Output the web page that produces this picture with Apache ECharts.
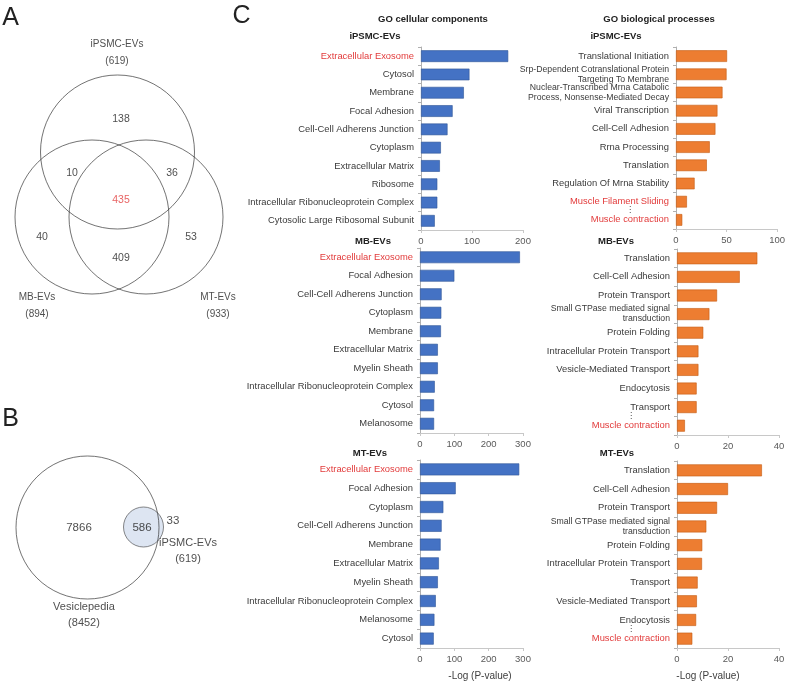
<!DOCTYPE html>
<html><head><meta charset="utf-8">
<script src="https://cdn.jsdelivr.net/npm/echarts@6/dist/echarts.min.js"></script>
<style>html,body{margin:0;padding:0;background:#fff}#c{width:788px;height:681px}</style>
</head><body><div id="c"></div>
<script>
// ---------- DATA ----------
// Panel C: GO cellular components (-Log P-value)
const ccIpsmcCats = ['Extracellular Exosome','Cytosol','Membrane','Focal Adhesion','Cell-Cell Adherens Junction','Cytoplasm','Extracellular Matrix','Ribosome','Intracellular Ribonucleoprotein Complex','Cytosolic Large Ribosomal Subunit'];
const ccIpsmcVals = [171,95,84,62,52,39,37,32,32,27];
const ccMbCats = ['Extracellular Exosome','Focal Adhesion','Cell-Cell Adherens Junction','Cytoplasm','Membrane','Extracellular Matrix','Myelin Sheath','Intracellular Ribonucleoprotein Complex','Cytosol','Melanosome'];
const ccMbVals = [291,100,63,62,61,52,52,43,41,41];
const ccMtCats = ['Extracellular Exosome','Focal Adhesion','Cytoplasm','Cell-Cell Adherens Junction','Membrane','Extracellular Matrix','Myelin Sheath','Intracellular Ribonucleoprotein Complex','Melanosome','Cytosol'];
const ccMtVals = [289,104,68,63,60,55,52,46,42,40];
// Panel C: GO biological processes
const bpIpsmcCats = ['Translational Initiation','Srp-Dependent Cotranslational Protein\nTargeting To Membrane','Nuclear-Transcribed Mrna Catabolic\nProcess, Nonsense-Mediated Decay','Viral Transcription','Cell-Cell Adhesion','Rrna Processing','Translation','Regulation Of Mrna Stability','Muscle Filament Sliding','Muscle contraction'];
const bpIpsmcVals = [50.5,50,46,41,39,33.4,30.5,18.4,10.8,6.2];
const bpMbCats = ['Translation','Cell-Cell Adhesion','Protein Transport','Small GTPase mediated signal\ntransduction','Protein Folding','Intracellular Protein Transport','Vesicle-Mediated Transport','Endocytosis','Transport','Muscle contraction'];
const bpMbVals = [31.5,24.6,15.7,12.7,10.3,8.4,8.4,7.7,7.7,3.1];
const bpMtCats = ['Translation','Cell-Cell Adhesion','Protein Transport','Small GTPase mediated signal\ntransduction','Protein Folding','Intracellular Protein Transport','Transport','Vesicle-Mediated Transport','Endocytosis','Muscle contraction'];
const bpMtVals = [33.3,20,15.7,11.5,9.9,9.8,8.1,7.8,7.5,6.0];
const xMaxes = [200,300,300,100,40,40];
const xIntervals = [100,100,100,50,20,20];
const highlighted = ['Extracellular Exosome','Muscle Filament Sliding','Muscle contraction'];
const afterGap = ['Muscle contraction'];

// Panel A: Venn of three EV proteomes
const vennASets = ['iPSMC-EVs','MB-EVs','MT-EVs'];
const vennASizes = [619,894,933];
const vennARegions = [138,10,36,435,40,53,409]; // iPSMC only, iPSMC&MB, iPSMC&MT, all, MB only, MT only, MB&MT
// Panel B: Vesiclepedia vs iPSMC-EVs
const vennBSets = ['Vesiclepedia','iPSMC-EVs'];
const vennBSizes = [8452,619];
const vennBRegions = [7866,586,33]; // Vesiclepedia only, shared, iPSMC only

// ---------- LAYOUT (pixel positions, separate from data) ----------
const FONT = '"Liberation Sans", Arial, sans-serif';
const grids = [
  {left:421, top:47, width:102, height:183},
  {left:420, top:248, width:103, height:185},
  {left:420, top:460, width:103, height:188},
  {left:676, top:47, width:102, height:182},
  {left:677, top:249, width:102, height:186},
  {left:677, top:461, width:102, height:187}
];
const colors = ['#4472C4','#4472C4','#4472C4','#ED7D31','#ED7D31','#ED7D31'];
const borders = ['#2f5597','#2f5597','#2f5597','#c55a11','#c55a11','#c55a11'];
const catSets = [ccIpsmcCats, ccMbCats, ccMtCats, bpIpsmcCats, bpMbCats, bpMtCats];
const valSets = [ccIpsmcVals, ccMbVals, ccMtVals, bpIpsmcVals, bpMbVals, bpMtVals];

const vennACircles = [[117.5,152,77],[92,217,77],[146,217,77]];
const vennASetPos = [[117,53],[37,305.5],[218,305.5]];
const vennARegionPos = [[121,119],[72,173],[172,173],[121,200],[42,237],[191,237],[121,258]];
const vennBCircles = [[87.5,527.5,71.5],[143.5,527,20]];
const vennBSetPos = [[84,615],[188,551]];
const vennBRegionPos = [[79,528],[142,528],[173,521]];

// ---------- BUILD ----------
const chart = echarts.init(document.getElementById('c'));
const rich = {
  norm:{fontSize:9.4, color:'#3a3a3a', fontFamily:FONT, lineHeight:11},
  red:{fontSize:9.4, color:'#e23b3b', fontFamily:FONT, lineHeight:11},
  small:{fontSize:8.7, color:'#3a3a3a', fontFamily:FONT, lineHeight:10},
  dots:{fontSize:8, color:'#3a3a3a', fontFamily:'DejaVu Sans', lineHeight:8, align:'center'},
  blank:{fontSize:8, lineHeight:8}
};
function catFmt(v){
  if (afterGap.includes(v)) return '{dots|⋮}\n{red|'+v+'}\n{blank| }';
  if (highlighted.includes(v)) return '{red|'+v+'}';
  if (v.indexOf('\n')>=0) return '{small|'+v+'}';
  return '{norm|'+v+'}';
}

const grid = [], xAxis = [], yAxis = [], series = [];
grids.forEach((g,i)=>{
  grid.push(Object.assign({containLabel:false}, g));
  xAxis.push({type:'value', gridIndex:i, min:0, max:xMaxes[i], interval:xIntervals[i],
    axisLine:{show:true, lineStyle:{color:'#c8c8c8', width:1}},
    axisTick:{show:true, length:3, lineStyle:{color:'#c8c8c8'}},
    splitLine:{show:false},
    axisLabel:{fontSize:9.5, color:'#595959', fontFamily:FONT, margin:6}});
  yAxis.push({type:'category', gridIndex:i, data:catSets[i], inverse:true,
    axisLine:{show:true, lineStyle:{color:'#b0b0b0', width:1}},
    axisTick:{show:true, length:3, lineStyle:{color:'#b0b0b0'}},
    axisLabel:{interval:0, margin:7, formatter:catFmt, rich:rich, align:'right'}});
  series.push({type:'bar', xAxisIndex:i, yAxisIndex:i, data:valSets[i], barCategoryGap:'36%',
    itemStyle:{color:colors[i], borderColor:borders[i], borderWidth:0.6}, silent:true});
});
// hidden pixel-scale grid for the Venn diagrams
grid.push({left:0, top:0, width:788, height:681});
xAxis.push({type:'value', gridIndex:6, min:0, max:788, show:false});
yAxis.push({type:'value', gridIndex:6, min:0, max:681, inverse:true, show:false});

const circleData = [];
vennACircles.forEach(c=>circleData.push({value:c, itemStyle:{color:'rgba(0,0,0,0)', borderColor:'#222', borderWidth:0.8}}));
// small iPSMC circle first (filled), large Vesiclepedia circle drawn over it
const bSmall = vennBCircles[1], bBig = vennBCircles[0];
series.push({type:'scatter', xAxisIndex:6, yAxisIndex:6, silent:true, z:2,
  symbolSize:d=>d[2]*2,
  data:[{value:bSmall, itemStyle:{color:'#d5deef', borderColor:'#444', borderWidth:0.8}}]});
circleData.push({value:bBig, itemStyle:{color:'rgba(0,0,0,0)', borderColor:'#222', borderWidth:0.8}});
series.push({type:'scatter', xAxisIndex:6, yAxisIndex:6, silent:true, z:3,
  symbolSize:d=>d[2]*2, data:circleData});

const labelData = [];
function addLabel(pos, text, size, color, lh){
  labelData.push({value:pos, label:{formatter:text, fontSize:size, color:color, lineHeight:lh||size*1.2}});
}
vennASets.forEach((s,i)=>addLabel(vennASetPos[i], s+'\n('+vennASizes[i]+')', 10, '#222', 17));
vennARegions.forEach((v,i)=>addLabel(vennARegionPos[i], String(v), 10.5, i===3?'#e23b3b':'#222'));
vennBSets.forEach((s,i)=>addLabel(vennBSetPos[i], s+'\n('+vennBSizes[i]+')', 11, '#222', 16));
vennBRegions.forEach((v,i)=>addLabel(vennBRegionPos[i], String(v), 11.5, '#222'));
series.push({type:'scatter', xAxisIndex:6, yAxisIndex:6, silent:true, z:5, symbolSize:1,
  itemStyle:{color:'rgba(0,0,0,0)'},
  label:{show:true, position:'inside', fontFamily:FONT, align:'center', verticalAlign:'middle'},
  data:labelData});

function txt(x,y,text,font,fill){
  return {type:'text', x:x, y:y, silent:true,
    style:{text:text, font:font, fill:fill||'#222', textAlign:'center', textVerticalAlign:'middle', align:'center', verticalAlign:'middle'}};
}
const graphic = [
  txt(10.5,18,'A','25px '+FONT,'#222'),
  txt(10.5,419,'B','25px '+FONT,'#222'),
  txt(241.5,16,'C','25px '+FONT,'#222'),
  txt(433,19,'GO cellular components','bold 9.5px '+FONT),
  txt(659,19,'GO biological processes','bold 9.5px '+FONT),
  txt(375,36,'iPSMC-EVs','bold 9.5px '+FONT),
  txt(616,36,'iPSMC-EVs','bold 9.5px '+FONT),
  txt(373,241,'MB-EVs','bold 9.5px '+FONT),
  txt(616,241,'MB-EVs','bold 9.5px '+FONT),
  txt(370,453,'MT-EVs','bold 9.5px '+FONT),
  txt(617,453,'MT-EVs','bold 9.5px '+FONT),
  txt(480,676,'-Log (P-value)','10px '+FONT,'#404040'),
  txt(708,676,'-Log (P-value)','10px '+FONT,'#404040')
];

chart.setOption({animation:false, backgroundColor:'#fff', grid, xAxis, yAxis, series, graphic});
</script></body></html>
